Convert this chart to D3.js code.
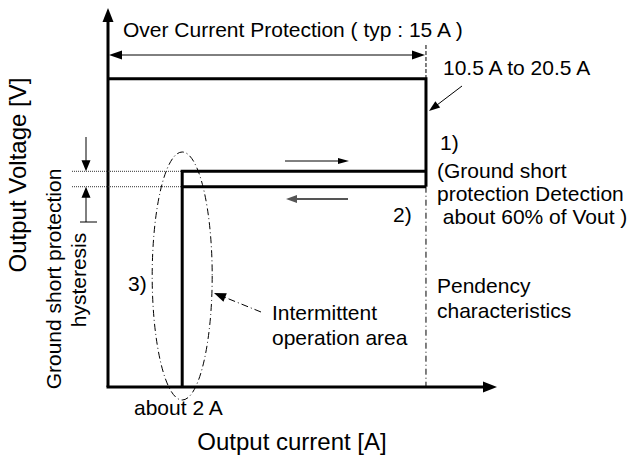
<!DOCTYPE html>
<html>
<head>
<meta charset="utf-8">
<script src="https://cdn.jsdelivr.net/npm/d3@7"></script>
<style>
  body { margin: 0; background: #fff; }
  text { font-family: "Liberation Sans", Arial, sans-serif; fill: #000; }
</style>
</head>
<body>
<svg id="chart" width="633" height="463"></svg>
<script>
// schematic units: current in A (not to scale), voltage in % of Vout
const xMax = 18.35, yMax = 123;
const ocpCurrent = 15;       // over current point
const shortCurrent = 3.5;    // "about 2 A" (schematic position)
const detectLevel = 70;      // ground short detect
const releaseLevel = 65;     // ground short release

const outerCurve   = [[0, 100], [ocpCurrent, 100], [ocpCurrent, releaseLevel]];
const detectCurve  = [[shortCurrent, 0], [shortCurrent, detectLevel], [ocpCurrent, detectLevel]];
const releaseCurve = [[shortCurrent, releaseLevel], [ocpCurrent, releaseLevel]];
const pendencyCurve = [[ocpCurrent, releaseLevel], [ocpCurrent, 0]];

const titleText = "Over Current Protection ( typ : 15 A )";
const rangeText = "10.5 A to 20.5 A";
const note1 = ["1)", "(Ground short", "protection Detection", " about 60% of Vout )"];
const note2 = "2)";
const note3 = "3)";
const pendencyText = ["Pendency", "characteristics"];
const intermittentText = ["Intermittent", "operation area"];
const hysteresisText = ["Ground short protection", "hysteresis"];
const shortCurrentText = "about 2 A";
const xTitle = "Output current [A]";
const yTitle = "Output Voltage [V]";

const svg = d3.select("#chart");
const x = d3.scaleLinear().domain([0, xMax]).range([108, 497]);
const y = d3.scaleLinear().domain([0, yMax]).range([387, 8]);
const line = d3.line().x(d => x(d[0])).y(d => y(d[1]));

function arrowHead(px, py, ang, len, wid, color) {
  // tip at (px,py), pointing in direction ang (radians)
  const c = Math.cos(ang), s = Math.sin(ang);
  const bx = px - c * len, by = py - s * len;
  const pts = [[px, py], [bx - s * wid / 2, by + c * wid / 2], [bx + s * wid / 2, by - c * wid / 2]];
  svg.append("path").attr("d", "M" + pts.join("L") + "Z").attr("fill", color || "#000");
}

// axes
svg.append("line").attr("x1", x(0)).attr("y1", y(0)).attr("x2", x(0)).attr("y2", y(yMax) + 10)
  .attr("stroke", "#000").attr("stroke-width", 3);
arrowHead(x(0), y(yMax), -Math.PI / 2, 14, 11);
svg.append("line").attr("x1", x(0) - 1.5).attr("y1", y(0)).attr("x2", x(xMax) - 10).attr("y2", y(0))
  .attr("stroke", "#000").attr("stroke-width", 3);
arrowHead(x(xMax), y(0), 0, 14, 11);

// characteristic
[outerCurve, detectCurve, releaseCurve].forEach(c => {
  svg.append("path").attr("d", line(c)).attr("fill", "none")
    .attr("stroke", "#000").attr("stroke-width", 3).attr("stroke-linejoin", "miter");
});
svg.append("path").attr("d", line(pendencyCurve)).attr("fill", "none")
  .attr("stroke", "#000").attr("stroke-width", 1).attr("stroke-dasharray", "6,3,1,3");

// OCP dimension arrow
const dimY = 55;
svg.append("line").attr("x1", x(0) + 10).attr("y1", dimY).attr("x2", x(ocpCurrent) - 10).attr("y2", dimY)
  .attr("stroke", "#000").attr("stroke-width", 1);
arrowHead(x(0) + 1, dimY, Math.PI, 13, 9);
arrowHead(x(ocpCurrent) - 1, dimY, 0, 13, 9);
svg.append("line").attr("x1", x(ocpCurrent)).attr("y1", 45).attr("x2", x(ocpCurrent)).attr("y2", y(100))
  .attr("stroke", "#000").attr("stroke-width", 1).attr("stroke-dasharray", "4,2");

svg.append("text").attr("x", 123).attr("y", 37).attr("font-size", 21).text(titleText);
svg.append("text").attr("x", 443).attr("y", 75).attr("font-size", 21).text(rangeText);
svg.append("line").attr("x1", 462).attr("y1", 86).attr("x2", 437).attr("y2", 105)
  .attr("stroke", "#000").attr("stroke-width", 1);
arrowHead(x(ocpCurrent) + 3, 111, Math.atan2(111 - 86, 429 - 462), 11, 8);

// note 1
svg.append("text").attr("x", 440).attr("y", 150).attr("font-size", 21).text(note1[0]);
svg.append("text").attr("x", 437).attr("y", 178).attr("font-size", 21).text(note1[1]);
svg.append("text").attr("x", 437).attr("y", 201).attr("font-size", 21).text(note1[2]);
svg.append("text").attr("x", 437).attr("y", 224).attr("font-size", 21).attr("xml:space", "preserve").text(note1[3]);
svg.append("text").attr("x", 393).attr("y", 222).attr("font-size", 21).text(note2);
svg.append("text").attr("x", 437).attr("y", 293).attr("font-size", 21).text(pendencyText[0]);
svg.append("text").attr("x", 437).attr("y", 318).attr("font-size", 21).text(pendencyText[1]);

// direction arrows
svg.append("line").attr("x1", 285).attr("y1", 161).attr("x2", 340).attr("y2", 161)
  .attr("stroke", "#000").attr("stroke-width", 1);
arrowHead(349, 161, 0, 11, 6);
svg.append("line").attr("x1", 348).attr("y1", 199).attr("x2", 296).attr("y2", 199)
  .attr("stroke", "#555").attr("stroke-width", 2);
arrowHead(286, 199, Math.PI, 11, 8, "#555");

// hysteresis dimension
[detectLevel, releaseLevel].forEach(v => {
  svg.append("line").attr("x1", 72).attr("y1", y(v)).attr("x2", x(shortCurrent)).attr("y2", y(v))
    .attr("stroke", "#333").attr("stroke-width", 1).attr("stroke-dasharray", "1,1");
});
svg.append("line").attr("x1", 86).attr("y1", 137).attr("x2", 86).attr("y2", y(detectLevel) - 8)
  .attr("stroke", "#000").attr("stroke-width", 1);
arrowHead(86, y(detectLevel), Math.PI / 2, 11, 9);
svg.append("line").attr("x1", 86).attr("y1", 222).attr("x2", 86).attr("y2", y(releaseLevel) + 8)
  .attr("stroke", "#000").attr("stroke-width", 1);
arrowHead(86, y(releaseLevel), -Math.PI / 2, 11, 9);
svg.append("line").attr("x1", 80).attr("y1", 222).attr("x2", 97).attr("y2", 222)
  .attr("stroke", "#000").attr("stroke-width", 1);

svg.append("text").attr("transform", "translate(61,279) rotate(-90)")
  .attr("text-anchor", "middle").attr("font-size", 21).text(hysteresisText[0]);
svg.append("text").attr("transform", "translate(86,280) rotate(-90)")
  .attr("text-anchor", "middle").attr("font-size", 21).text(hysteresisText[1]);

// intermittent area
svg.append("ellipse").attr("cx", x(shortCurrent)).attr("cy", 276).attr("rx", 30).attr("ry", 124)
  .attr("fill", "none").attr("stroke", "#000").attr("stroke-width", 1).attr("stroke-dasharray", "7,3,1,3");
svg.append("line").attr("x1", 261).attr("y1", 312).attr("x2", 224).attr("y2", 297)
  .attr("stroke", "#000").attr("stroke-width", 1).attr("stroke-dasharray", "7,3,1,3");
arrowHead(214, 293, Math.atan2(293 - 312, 214 - 261), 12, 9);
svg.append("text").attr("x", 272).attr("y", 320).attr("font-size", 21).text(intermittentText[0]);
svg.append("text").attr("x", 272).attr("y", 345).attr("font-size", 21).text(intermittentText[1]);
svg.append("text").attr("x", 128).attr("y", 291).attr("font-size", 21).text(note3);

// axis labels
svg.append("text").attr("x", 134).attr("y", 415).attr("font-size", 21).text(shortCurrentText);
svg.append("text").attr("x", 292).attr("y", 450).attr("text-anchor", "middle").attr("font-size", 24).text(xTitle);
svg.append("text").attr("transform", "translate(26,175) rotate(-90)")
  .attr("text-anchor", "middle").attr("font-size", 24).text(yTitle);
</script>
</body>
</html>
